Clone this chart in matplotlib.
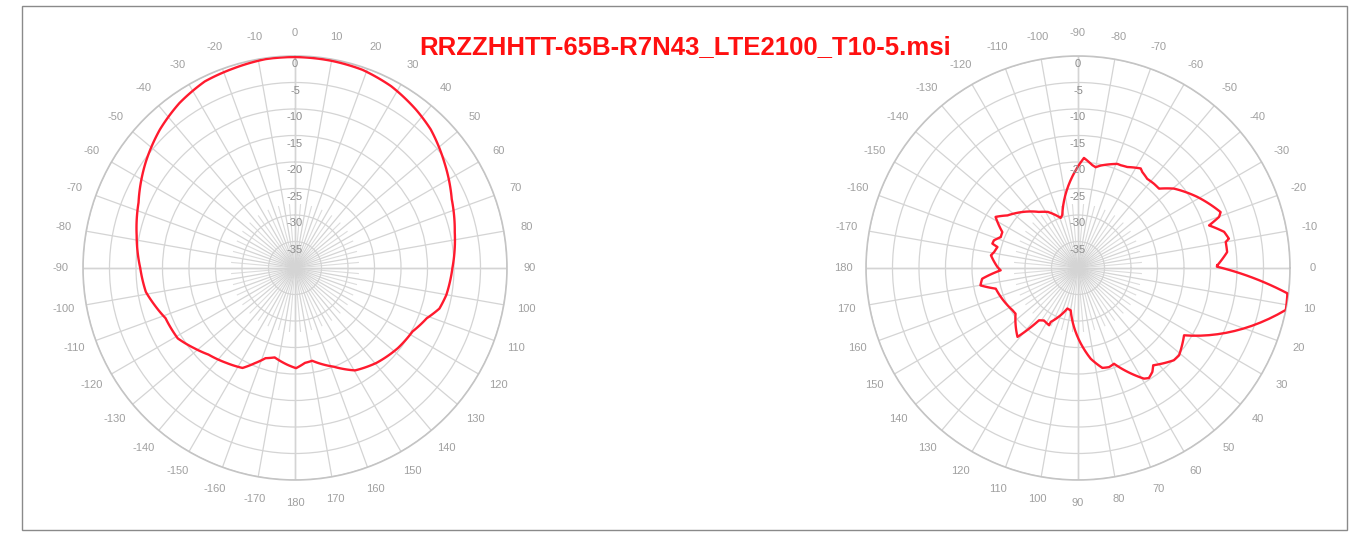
import numpy as np
import matplotlib
matplotlib.use("Agg")
import matplotlib.pyplot as plt
from matplotlib.patches import Rectangle

plt.rcParams['font.family'] = ['Liberation Sans', 'DejaVu Sans']

title = "RRZZHHTT-65B-R7N43_LTE2100_T10-5.msi"

# horizontal pattern (deg, dB)
h_ang = [0, 9.6, 18.8, 27.9, 37.4, 44.4, 54.8, 66.3, 77.3, 90, 100.1, 105.7,
         110.9, 118.4, 127.9, 139.3, 149.6, 158.6, 169.5, 174, 179.4,
         -175.4, -167.2, -161.9, -157.1, -152.3, -144.1, -135, -128.5, -121,
         -111.2, -104.8, -99.1, -90, -78.4, -67.3, -54.8, -44.3, -35, -25.8,
         -17.2, -8, 0]
h_db = [-0.2, -0.3, -0.5, -1.2, -2.4, -3.4, -5.5, -7.7, -9.1, -10.3, -11.0, -11.7,
        -13.4, -14.8, -15.4, -16.4, -17.6, -20.0, -22.2, -22.0, -21.1,
        -21.7, -22.7, -22.1, -20.5, -18.7, -17.9, -16.9, -15.7, -14.2,
        -13.8, -12.6, -11.5, -10.8, -9.5, -8.0, -5.5, -3.5, -2.0, -0.9,
        -0.6, -0.2, -0.2]

# vertical pattern (deg, dB)
v_ang = [-1.1, -0.55, 0.46, 1.8, 2.9, 4.7, 6.9, 9.6, 11.4, 12.3, 14.0, 15.3,
         18.0, 18.2, 20.5, 23.9, 27.6, 29.3, 32.4, 35.3, 38.2, 40.8, 43.9,
         49.2, 52.3, 54.4, 57.2, 59.2, 61.1, 62.8, 64.7, 66.4, 69.4, 72.6,
         76.3, 79.7, 82.0, 84.6, 87.8, 90.6, 92.6, 95.3, 99.8, 104.7, 107.9,
         112.3, 116.1, 116.8, 116.8, 120.2, 123.0, 126.7, 126.4, 126.2, 127.0,
         129.1, 131.3, 135.8, 139.8, 140.1, 143.8, 147.2, 152.2, 155.3, 158.4,
         162.0, 165.9, 167.7, 168.6, 169.9, 173.6, 175.4, 178.3, -179.3,
         -174.9, -171.7, -169.2, -165.4, -164.1, -161.8, -158.2, -154.6,
         -153.1, -151.3, -148.2, -144.9, -143.3, -137.1, -131.1, -124.9,
         -122.2, -118.2, -117.1, -112.1, -109.1, -106.6, -103.2, -100.9,
         -99.2, -97.6, -94.2, -91.3, -89.5, -86.9, -84.2, -82.1, -80.1,
         -77.5, -75.4, -72.1, -69.3, -67.4, -64.0, -60.3, -57.8, -56.2,
         -52.2, -48.0, -44.4, -42.1, -39.6, -38.3, -38.1, -35.0, -32.4,
         -30.8, -29.1, -27.3, -27.0, -24.7, -23.1, -21.4, -19.9, -19.3,
         -18.0, -15.7, -15.4, -13.9, -11.0, -10.0, -6.1, -3.0, -1.1]
v_db = [-13.7, -13.8, -8.8, -4.4, -1.8, -0.6, -0.2, 0.0, 0.0, -1.0, -4.6, -7.0,
        -7.2, -7.7, -10.6, -13.3, -15.3, -16.0, -16.3, -15.9, -15.4, -14.8, -14.9,
        -16.1, -16.8, -15.9, -15.3, -15.7, -16.9, -18.3, -19.7, -20.7, -20.7, -20.4,
        -20.6, -21.3, -22.7, -24.7, -27.0, -28.6, -30.4, -31.8, -31.9, -32.1, -31.4,
        -31.4, -30.4, -28.6, -27.9, -27.9, -28.2, -27.7, -26.6, -25.4, -24.1,
        -22.8, -22.7, -23.6, -24.2, -25.1, -25.4, -25.3, -24.9, -24.6, -24.3,
        -24.3, -24.0, -23.1, -21.9, -21.3, -21.8, -22.8, -25.4, -24.8,
        -23.8, -23.4, -23.9, -24.3, -23.2, -23.3, -24.3, -24.2,
        -22.9, -21.9, -21.7, -22.2, -23.4, -25.2, -26.4, -27.1,
        -27.4, -28.0, -28.7, -29.6, -30.0, -29.6, -27.9, -25.4,
        -23.6, -22.4, -21.2, -20.0, -19.4, -19.2, -19.6, -20.4, -20.7,
        -20.2, -19.3, -19.0, -19.0, -19.0, -18.8, -18.1, -17.8, -18.2,
        -18.7, -18.6, -18.6, -18.1, -16.5, -15.3, -14.2, -14.4, -14.4,
        -13.8, -13.1, -12.2, -12.6, -12.4, -11.4, -11.1, -11.7, -12.8,
        -14.0, -13.7, -12.1, -11.6, -11.0, -11.7, -11.7, -12.4, -13.7]

rings = [0, -5, -10, -15, -20, -25, -30, -35]
grid_c = '#d4d4d4'
lab_c = '#a0a0a0'
red = '#ff1a2e'

fig = plt.figure(figsize=(13.57, 5.36), dpi=100)
fig.patches.append(Rectangle((22/1357, 6/536), 1325/1357, 524/536, transform=fig.transFigure,
                             fill=False, edgecolor='#8a8a8a', lw=1.0))

def setup(ax, zero):
    ax.set_theta_zero_location(zero)
    ax.set_theta_direction(-1)
    ax.set_ylim(-40, 0)
    angs = np.arange(0, 360, 10)
    labs = [str(a if a <= 180 else a - 360) for a in angs]
    ax.set_thetagrids(angs, labs, color=lab_c, fontsize=8)
    ax.tick_params(axis='x', pad=6)
    ax.set_yticks(rings)
    ax.set_yticklabels([])
    ax.grid(True, color=grid_c, lw=0.9)
    ax.spines['polar'].set_color('#c4c4c4')
    ax.spines['polar'].set_linewidth(1.2)
    # darker axis cross
    for t in [0, 90, 180, 270]:
        ax.plot([np.radians(t)] * 2, [-40, 0], color='#c4c4c4', lw=1.0, zorder=1)
    # short extra spokes crowding the centre
    for t in np.arange(5, 360, 10):
        ax.plot([np.radians(t)] * 2, [-40, -28], color='#dcdcdc', lw=0.8, zorder=1)
    return ax

def curve(ax, ang, db):
    th = np.unwrap(np.radians(ang))
    ln, = ax.plot(th, db, color=red, lw=1.7, zorder=3)
    ln._path._interpolation_steps = 12

ax1 = fig.add_axes([83/1357, 1 - 480/536, 424/1357, 424/536], projection='polar')
setup(ax1, 'N')
curve(ax1, h_ang, h_db)
for r in rings:
    ax1.text(0, r - 1.6, str(r), color='#8c8c8c', fontsize=8, ha='center', va='center')

ax2 = fig.add_axes([866/1357, 1 - 480/536, 424/1357, 424/536], projection='polar')
setup(ax2, 'E')
curve(ax2, v_ang, v_db)
for r in rings:
    ax2.text(np.radians(270), r - 1.6, str(r), color='#8c8c8c', fontsize=8,
             ha='center', va='center')

fig.text(685/1357, 1 - 47/536, title, color='#ff1010', fontsize=18.5, fontweight='bold',
         ha='center', va='center')

fig.savefig("out.png", dpi=100, facecolor='white')
